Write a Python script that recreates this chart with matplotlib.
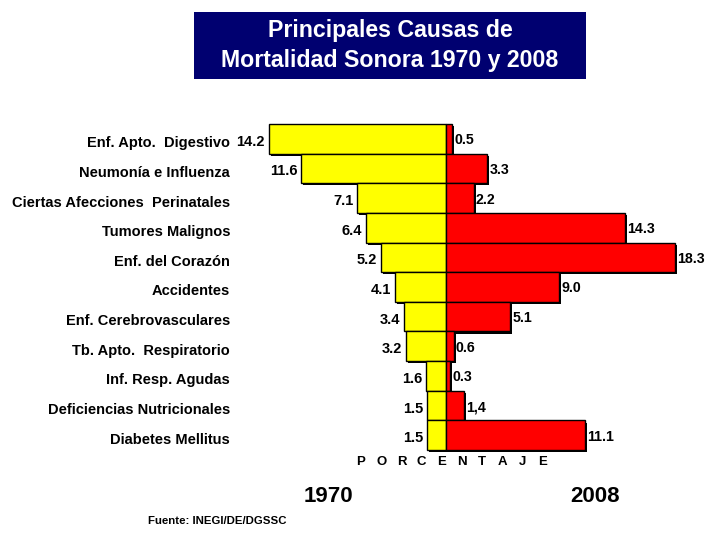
import matplotlib.pyplot as plt
import matplotlib.patheffects as pe
from matplotlib.patches import Rectangle

plt.rcParams['font.family'] = ['Liberation Sans', 'DejaVu Sans']
plt.rcParams['font.weight'] = 'bold'

# Data
causes = ['Enf. Apto.  Digestivo', 'Neumonía e Influenza', 'Ciertas Afecciones  Perinatales',
          'Tumores Malignos', 'Enf. del Corazón', 'Accidentes', 'Enf. Cerebrovasculares',
          'Tb. Apto.  Respiratorio', 'Inf. Resp. Agudas', 'Deficiencias Nutricionales',
          'Diabetes Mellitus']
pct_1970 = [14.2, 11.6, 7.1, 6.4, 5.2, 4.1, 3.4, 3.2, 1.6, 1.5, 1.5]
pct_2008 = [0.5, 3.3, 2.2, 14.3, 18.3, 9.0, 5.1, 0.6, 0.3, 1.4, 11.1]
labels_2008 = ['0.5', '3.3', '2.2', '14.3', '18.3', '9.0', '5.1', '0.6', '0.3', '1,4', '11.1']

W, H = 706, 533
fig = plt.figure(figsize=(W / 100, H / 100), dpi=100)

# axes placed so that 0 sits at x=446px, 12.5 px per percent
ax = fig.add_axes([200 / W, 1 - 465 / H, 500 / W, 355 / H])
ax.set_xlim(-(446 - 200) / 12.5, (700 - 446) / 12.5)
ax.set_ylim(10.5 + 15 / 29.64, -0.5 - 14 / 29.64)
ax.axis('off')

shadow = [pe.SimplePatchShadow(offset=(1.6, -1.6), shadow_rgbFace='black', alpha=1.0), pe.Normal()]
y = list(range(len(causes)))
b1 = ax.barh(y, [-v for v in pct_1970], height=1.0, color='#FFFF00', edgecolor='black', linewidth=1)
b2 = ax.barh(y, pct_2008, height=1.0, color='#FF0000', edgecolor='black', linewidth=1)
for bar in list(b1) + list(b2):
    bar.set_path_effects(shadow)

for i in y:
    ax.text(-pct_1970[i] - 0.3, i + 0.1, f'{pct_1970[i]:.1f}', ha='right', va='center',
            fontsize=10.5, fontweight='bold')
    ax.text(pct_2008[i] + 0.2, i + 0.05, labels_2008[i], ha='left', va='center',
            fontsize=10.2, fontweight='bold')
    ax.text(-(446 - 230) / 12.5, i + 0.15, causes[i], ha='right', va='center', fontsize=10.5,
            fontweight='bold', clip_on=False)

# title box
fig.patches.append(Rectangle((194 / W, 1 - 79 / H), 392 / W, 67 / H, transform=fig.transFigure,
                             facecolor='#000070', edgecolor='none'))
fig.text(390 / W, 1 - 31 / H, 'Principales Causas de', ha='center', va='center',
         color='white', fontsize=16.7, fontweight='bold')
fig.text(390 / W, 1 - 61 / H, 'Mortalidad Sonora 1970 y 2008', ha='center', va='center',
         color='white', fontsize=16.7, fontweight='bold')

for k, ch in enumerate('PORCENTAJE'):
    fig.text((361 + k * 20.2) / W, 1 - 462 / H, ch, ha='center', va='center',
             fontsize=9.5, fontweight='bold')
fig.text(328 / W, 1 - 497 / H, '1970', ha='center', va='center', fontsize=16, fontweight='bold')
fig.text(595 / W, 1 - 497 / H, '2008', ha='center', va='center', fontsize=16, fontweight='bold')
fig.text(148 / W, 1 - 521 / H, 'Fuente: INEGI/DE/DGSSC', ha='left', va='center',
         fontsize=8.2, fontweight='bold')

fig.savefig('out.png', dpi=100)
